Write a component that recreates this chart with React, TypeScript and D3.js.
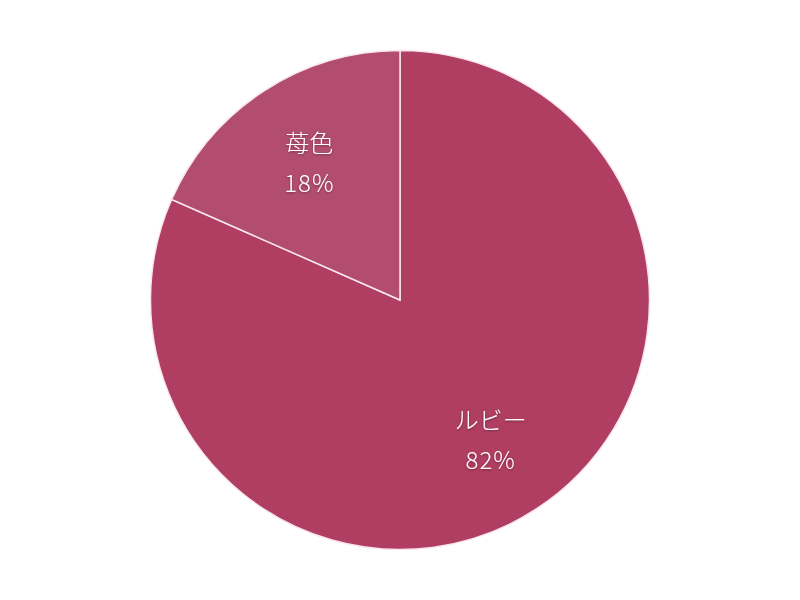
import React from "react";
import * as d3 from "d3";

const categories = ["ルビー", "苺色"];
const values = [81.6, 18.4];
const labels = ["82%", "18%"];
const colors = ["#B03D62", "#B24D6F"];

export default function App() {
  const width = 800;
  const height = 600;
  const cx = 400;
  const cy = 300;
  const r = 249.5;
  const pie = d3.pie<number>().sort(null).value((d) => d);
  const arcs = pie(values);
  const arc = d3.arc<d3.PieArcDatum<number>>().innerRadius(0).outerRadius(r);
  const labelArc = d3.arc<d3.PieArcDatum<number>>().innerRadius(r * 0.665).outerRadius(r * 0.665);
  return (
    <svg width={width} height={height} style={{ position: "absolute", left: 0, top: 0, background: "#fff" }}>
      <defs>
        <filter id="ts" x="-20%" y="-20%" width="140%" height="140%">
          <feDropShadow dx="0" dy="1" stdDeviation="1" floodColor="#000" floodOpacity="0.35" />
        </filter>
      </defs>
      <g transform={`translate(${cx},${cy})`}>
        {arcs.map((a, i) => (
          <path key={i} d={arc(a) || ""} fill={colors[i]} stroke="#F8E6EC" strokeWidth={1.5} />
        ))}
        {arcs.map((a, i) => {
          const [x, y] = labelArc.centroid(a);
          return (
            <g key={"l" + i} filter="url(#ts)" fontFamily="'Noto Sans CJK JP', sans-serif" fontWeight={300} fontSize={24} fill="#fff" textAnchor="middle">
              <text x={x} y={y - 20} dominantBaseline="central">{categories[i]}</text>
              <text x={x} y={y + 20} dominantBaseline="central" letterSpacing={1}>{labels[i]}</text>
            </g>
          );
        })}
      </g>
    </svg>
  );
}
